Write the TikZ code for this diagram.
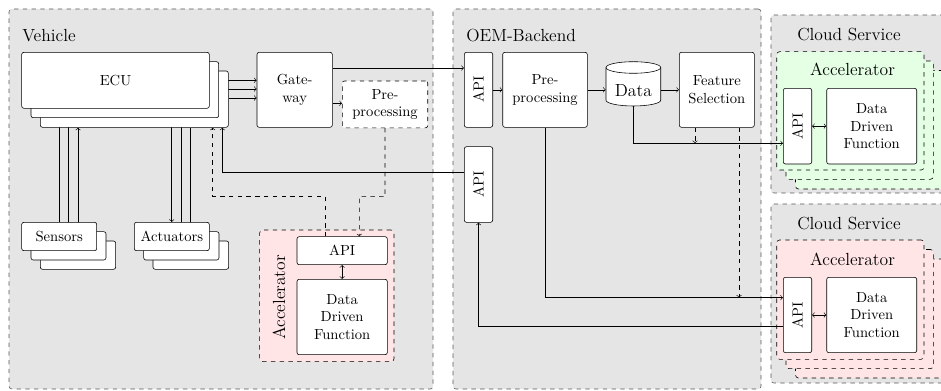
\documentclass[tikz,border=0pt]{standalone}
\usetikzlibrary{fit}
\pgfdeclarelayer{bg}
\pgfdeclarelayer{mid}
\pgfsetlayers{bg,mid,main}
\begin{document}
\begin{tikzpicture}[x=0.685pt,y=-0.685pt,line width=0.5pt,
  box/.style={draw, fill=white, rounded corners=1.5pt, inner sep=0pt},
  dbox/.style={box, dashed},
  txt/.style={align=center, inner sep=0pt},
  frame/.style={draw=black!65, dashed, fill=black!10, rounded corners=2pt, inner sep=0pt},
  accel/.style={draw, dashed, rounded corners=2pt, inner sep=0pt},
  lbl/.style={font=\large, inner sep=0pt},
  cyl/.style={draw, fill=white},
  conn/.style={->},
  dconn/.style={->, dashed},
  bconn/.style={<->}]
\useasboundingbox (0,0) rectangle (941,391);
\clip (0,0) rectangle (941,391);

% ---------- frames ----------
\begin{pgfonlayer}{bg}
\node[frame, fit={(9,9) (433,389)}] (veh) {};
\node[frame, fit={(453,9) (761,389)}] (oem) {};
\node[frame, fit={(771,15) (965,193)}] (cs1) {};
\node[frame, fit={(771,204) (965,383)}] (cs2) {};
\node[accel, fill=red!10, fit={(259.7,230) (394,361.7)}] (vacc) {};
\node[accel, fill=green!10, fit={(795.5,70.5) (955,189)}] (ca1c) {};
\node[accel, fill=green!10, fit={(786,61) (933.3,179.3)}] (ca1b) {};
\node[accel, fill=green!10, fit={(776.7,51.7) (924,170)}] (ca1a) {};
\node[accel, fill=red!10, fit={(795.5,259) (955,378)}] (ca2c) {};
\node[accel, fill=red!10, fit={(786,249.5) (933.3,368.7)}] (ca2b) {};
\node[accel, fill=red!10, fit={(776.7,240) (924,359.3)}] (ca2a) {};
\end{pgfonlayer}

% ---------- labels ----------
\node[lbl, anchor=base west] (lveh) at (22,42) {Vehicle};
\node[lbl, anchor=base west] (loem) at (466,42) {OEM-Backend};
\node[lbl, anchor=base west] (lcs1) at (797,41) {Cloud Service};
\node[lbl, anchor=base west] (lcs2) at (797,229.5) {Cloud Service};
\node[lbl, anchor=base] (lca1) at (852.5,76) {Accelerator};
\node[lbl, anchor=base] (lca2) at (852.5,265) {Accelerator};
\node[lbl, rotate=90] (lvacc) at (279,297.5) {Accelerator};

% ---------- vehicle ----------
\node[box, fit={(40.3,71) (228.3,127.3)}] (ecu3) {};
\node[box, fit={(31,61.7) (218.7,117.7)}] (ecu2) {};
\node[box, fit={(21.7,52.3) (209.3,108.3)}] (ecu1) {};
\node[txt] (ecu1t) at (ecu1) {ECU};

\node[box, fit={(40.3,241) (115.7,269.3)}] (sens3) {};
\node[box, fit={(31,231.7) (106,260)}] (sens2) {};
\node[box, fit={(21.7,222.3) (96.7,250.7)}] (sens1) {};
\node[txt] (sens1t) at (sens1) {Sensors};

\node[box, fit={(153,241) (228.7,269.3)}] (act3) {};
\node[box, fit={(143.7,231.7) (219,260)}] (act2) {};
\node[box, fit={(134.3,222.3) (209.3,250.7)}] (act1) {};
\node[txt] (act1t) at (act1) {Actuators};

\node[box, fit={(257,52.3) (332.3,127.3)}] (gw) {};
\node[txt] (gwt) at (gw) {Gate-\\way};
\node[dbox, fit={(342.3,81) (427.7,127.8)}] (vpre) {};
\node[txt] (vpret) at (vpre) {Pre-\\processing};

\node[box, fit={(297,236.7) (387.3,264.7)}] (vapi) {};
\node[txt] (vapit) at (vapi) {API};
\node[box, fit={(297,279.3) (387.3,354.7)}] (vddf) {};
\node[txt] (vddft) at (vddf) {Data\\Driven\\Function};

% ---------- OEM backend ----------
\node[box, fit={(464.3,52.3) (492.7,127.3)}] (oapi1) {};
\node[txt, rotate=90] (oapi1t) at (oapi1) {API};
\node[box, fit={(502.7,52.3) (587.3,127.3)}] (opre) {};
\node[txt] (opret) at (opre) {Pre-\\processing};
% Data cylinder
\node[inner sep=0pt, fit={(606,61.7) (660.7,106)}] (data) {};
\path[cyl] (606,67.5) -- (606,100.2)
  .. controls (606,103.4) and (618.25,106) .. (633.35,106)
  .. controls (648.45,106) and (660.7,103.4) .. (660.7,100.2)
  -- (660.7,67.5)
  .. controls (660.7,64.3) and (648.45,61.7) .. (633.35,61.7)
  .. controls (618.25,61.7) and (606,64.3) .. (606,67.5) -- cycle;
\draw (606,67.5) .. controls (606,70.7) and (618.25,73.3) .. (633.35,73.3)
  .. controls (648.45,73.3) and (660.7,70.7) .. (660.7,67.5);
\node[txt, font=\large] (datat) at (633.35,90.5) {Data};
\node[box, fit={(679.3,52.3) (754.3,127.3)}] (fs) {};
\node[txt] (fst) at (fs) {Feature\\Selection};
\node[box, fit={(464.3,146.7) (492.7,222.3)}] (oapi2) {};
\node[txt, rotate=90] (oapi2t) at (oapi2) {API};

% ---------- cloud services ----------
\node[box, fit={(783.3,88.3) (811.7,164)}] (capi1) {};
\node[txt, rotate=90] (capi1t) at (capi1) {API};
\node[box, fit={(826.7,88.3) (916.7,164)}] (cddf1) {};
\node[txt] (cddf1t) at (cddf1) {Data\\Driven\\Function};
\node[box, fit={(783.3,277.3) (811.7,352.7)}] (capi2) {};
\node[txt, rotate=90] (capi2t) at (capi2) {API};
\node[box, fit={(826.7,277.3) (916.7,352.7)}] (cddf2) {};
\node[txt] (cddf2t) at (cddf2) {Data\\Driven\\Function};

\coordinate (j1) at (695,143.3);
\coordinate (j2) at (739,297.7);

% ---------- connectors ----------
\begin{pgfonlayer}{mid}
\draw[conn] (ecu1.east |- 0,80.3) -- (gw.west |- 0,80.3);
\draw[conn] (ecu2.east |- 0,89) -- (gw.west |- 0,89);
\draw[conn] (ecu3.east |- 0,98) -- (gw.west |- 0,98);
\draw[conn] (gw.east |- 0,103.3) -- (vpre.west |- 0,103.3);
\draw[conn] (gw.east |- 0,68) -- (oapi1.west |- 0,68);

\draw[conn] (sens1.north -| 59.3,0) -- (ecu1.south -| 59.3,0);
\draw[conn] (sens2.north -| 68.7,0) -- (ecu2.south -| 68.7,0);
\draw[conn] (sens3.north -| 78,0) -- (ecu3.south -| 78,0);
\draw[conn] (ecu1.south -| 171.7,0) -- (act1.north -| 171.7,0);
\draw[conn] (ecu2.south -| 181,0) -- (act2.north -| 181,0);
\draw[conn] (ecu3.south -| 190.3,0) -- (act3.north -| 190.3,0);

\draw[dconn] (vpre.south) -- (385,196.7) -- (359.3,196.7) -- (vapi.north -| 359.3,0);
\draw[dconn] (vapi.north -| 325,0) -- (325,196.7) -- (212.7,196.7) -- (ecu3.south -| 212.7,0);
\draw[bconn] (vapi.south) -- (vddf.north);

\draw[conn] (oapi2.west |- 0,172.3) -| (ecu3.south -| 222.3,0);

\draw[conn] (oapi1.east) -- (opre.west);
\draw[conn] (opre.east) -- (data.west |- opre.east);
\draw[conn] (data.east |- fs.west) -- (fs.west);
\draw[conn] (data.south) |- (capi1.west |- j1);
\draw[dconn] (fs.south -| j1) -- (j1);
\draw[dconn] (fs.south -| j2) -- (j2);
\draw[conn] (opre.south) |- (capi2.west |- j2);
\draw[conn] (capi2.west |- 0,326.7) -| (oapi2.south);

\draw[bconn] (capi1.east) -- (cddf1.west);
\draw[bconn] (capi2.east) -- (cddf2.west);
\end{pgfonlayer}
\end{tikzpicture}
\end{document}
